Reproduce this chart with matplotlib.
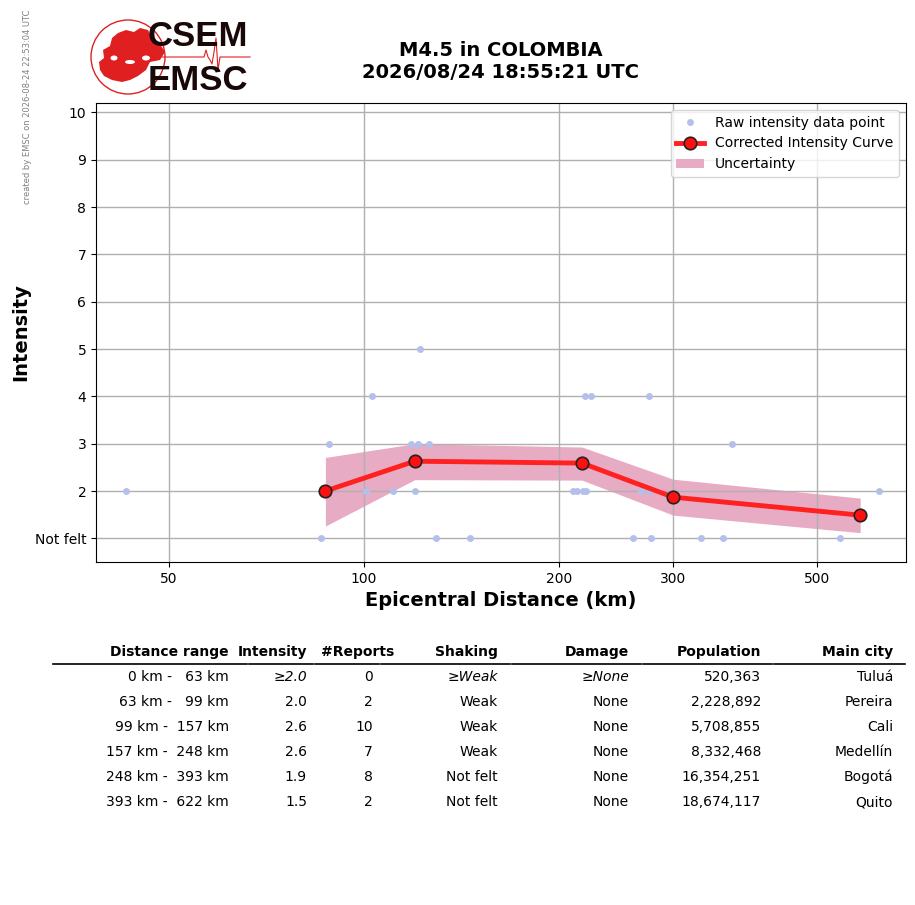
import numpy as np
import matplotlib.pyplot as plt
from matplotlib.patches import Circle, Ellipse, Polygon

# raw intensity reports (distance km, intensity; 1 = not felt)
raw_dist = [43, 85.8, 88.3, 100.7, 102.9, 110.8, 118, 121, 120, 122, 126, 129, 146,
            210, 213, 218, 220, 219.5, 224, 260, 268, 275.5, 275, 277.6,
            331.5, 358.5, 370, 543, 624]
raw_int = [2, 1, 3, 2, 4, 2, 3, 3, 2, 5, 3, 1, 1,
           2, 2, 2, 2, 4, 4, 1, 2, 2, 4, 1,
           1, 1, 3, 1, 2]

# corrected intensity curve and uncertainty band
curve_dist = [87.2, 119.8, 217, 300, 583]
curve_int = [2.0, 2.63, 2.59, 1.87, 1.49]
band_low = [1.26, 2.24, 2.23, 1.49, 1.12]
band_high = [2.71, 3.0, 2.93, 2.25, 1.85]

xticks = [50, 100, 200, 300, 500]
yticks = [1, 2, 3, 4, 5, 6, 7, 8, 9, 10]
ylabels = ['Not felt', '2', '3', '4', '5', '6', '7', '8', '9', '10']

# summary table
col_names = ['Distance range', 'Intensity', '#Reports', 'Shaking', 'Damage',
             'Population', 'Main city']
dist_range = ['0 km -   63 km', '63 km -   99 km', '99 km -  157 km',
              '157 km -  248 km', '248 km -  393 km', '393 km -  622 km']
intensity = ['≥2.0', '2.0', '2.6', '2.6', '1.9', '1.5']
reports = ['0', '2', '10', '7', '8', '2']
shaking = ['≥Weak', 'Weak', 'Weak', 'Weak', 'Not felt', 'Not felt']
damage = ['≥None', 'None', 'None', 'None', 'None', 'None']
population = ['520,363', '2,228,892', '5,708,855', '8,332,468', '16,354,251',
              '18,674,117']
main_city = ['Tuluá', 'Pereira', 'Cali', 'Medellín', 'Bogotá', 'Quito']

W, H = 915, 905
fig = plt.figure(figsize=(W / 100, H / 100), dpi=100)

ax = fig.add_axes([96 / W, 1 - 562 / H, 810 / W, 459 / H])
ax.fill_between(curve_dist, band_low, band_high, color='#e8abc4', lw=0,
                label='Uncertainty')
ax.plot(raw_dist, raw_int, 'o', color='#b3c0ec', ms=5, mec='none',
        label='Raw intensity data point', zorder=2)
ax.plot(curve_dist, curve_int, '-', color='#ff2020', lw=3.5, marker='o',
        ms=9, mfc='#ff1010', mec='#222222', mew=1.2,
        label='Corrected Intensity Curve', zorder=3)
ax.set_xscale('log')
ax.set_xlim(38.6, 686)
ax.set_ylim(0.5, 10.2)
ax.set_xticks(xticks)
ax.set_xticklabels([str(t) for t in xticks], fontsize=10)
ax.minorticks_off()
ax.set_yticks(yticks)
ax.set_yticklabels(ylabels, fontsize=10)
ax.grid(True, color='#b0b0b0', lw=1)
ax.set_xlabel('Epicentral Distance (km)', fontsize=14, fontweight='bold')
ax.set_ylabel('Intensity', fontsize=14, fontweight='bold', labelpad=3)
ax.set_title('M4.5 in COLOMBIA\n2026/08/24 18:55:21 UTC', fontsize=14,
             fontweight='bold', pad=18)
h, l = ax.get_legend_handles_labels()
ax.legend([h[1], h[2], h[0]], [l[1], l[2], l[0]], loc='upper right',
          fontsize=10)

# logo
lg = fig.add_axes([0, 1 - 110 / H, 300 / W, 110 / H])
lg.set_xlim(0, 300)
lg.set_ylim(110, 0)
lg.axis('off')
red = '#e02020'
lg.add_patch(Circle((128, 57), 37, fill=False, ec=red, lw=1))
europe = [(100, 70), (99, 62), (104, 58), (103, 50), (110, 46), (112, 38),
          (118, 33), (126, 30), (134, 32), (140, 28), (148, 30), (152, 38),
          (160, 44), (165, 52), (160, 60), (150, 62), (146, 70), (138, 76),
          (130, 80), (122, 82), (112, 80), (104, 76)]
lg.add_patch(Polygon(europe, closed=True, color=red, lw=0))
lg.add_patch(Ellipse((114, 58), 7, 5, color='white', lw=0))
lg.add_patch(Ellipse((130, 62), 10, 4, color='white', lw=0))
lg.add_patch(Ellipse((146, 58), 8, 5, color='white', lw=0))
seis_x = [162, 204, 206, 208, 210, 212, 214, 216, 218, 220, 222, 250]
seis_y = [57, 57, 50, 57, 60, 64, 52, 38, 70, 57, 57, 57]
lg.plot(seis_x, seis_y, color=red, lw=0.8)
lg.text(148, 37, 'CSEM', fontsize=25, fontweight='bold', color='#1a0808',
        family='Liberation Sans', va='center', ha='left')
lg.text(148, 81, 'EMSC', fontsize=25, fontweight='bold', color='#1a0808',
        family='Liberation Sans', va='center', ha='left')
fig.text(28 / W, 1 - 107 / H, 'created by EMSC on 2026-08-24 22:53:04 UTC',
         rotation=90, fontsize=6, color='gray', ha='center', va='center')

# table
tb = fig.add_axes([0, 0, 1, 1])
tb.set_xlim(0, W)
tb.set_ylim(H, 0)
tb.axis('off')
col_right = [229, 307, 373, 498, 629, 761, 893]
head_right = [229, 307, 394, 498, 629, 761, 893]
bounds = [52, 248, 314, 380, 511, 642, 773, 906]
for i, name in enumerate(col_names):
    tb.text(head_right[i], 652, name, fontsize=10, fontweight='bold',
            ha='right', va='center')
    tb.plot([bounds[i] + 1, bounds[i + 1] - 1], [664, 664], color='black', lw=1.2)
columns = [dist_range, intensity, reports, shaking, damage, population, main_city]
for r in range(len(dist_range)):
    for c, col in enumerate(columns):
        style = 'italic' if r == 0 and c in (1, 3, 4) else 'normal'
        tb.text(col_right[c], 677 + 25 * r, col[r], fontsize=10, style=style,
                ha='right', va='center')

fig.savefig('out.png', dpi=100)
